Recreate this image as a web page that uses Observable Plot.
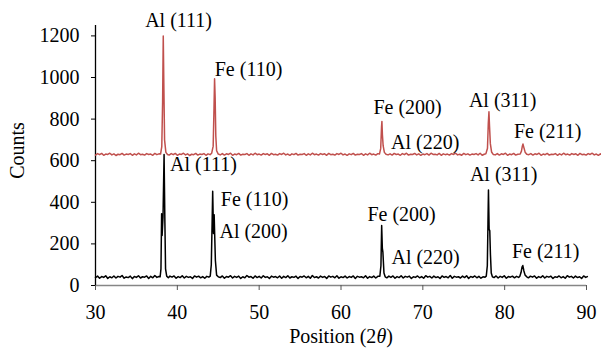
<!DOCTYPE html>
<html><head><meta charset="utf-8">
<script src="https://cdn.jsdelivr.net/npm/d3@7"></script>
<script src="https://cdn.jsdelivr.net/npm/@observablehq/plot@0.6"></script>
<style>
body{margin:0;background:#fff}
svg text, svg g[aria-label] { font-family: "Liberation Serif", "Times New Roman", serif !important; }
</style>
</head><body><div id="chart"></div>
<script>
// [2θ, counts]
const blackPattern = [
  [30,38],[30.25,45],[30.5,35],[30.75,43],[31,39],[31.25,47],[31.5,34],[31.75,42],[32,37],[32.25,46],[32.5,36],[32.75,44],[33,40],[33.25,48],[33.5,35],[33.75,41],
  [34,38],[34.25,45],[34.5,33],[34.75,43],[35,39],[35.25,47],[35.5,36],[35.75,42],[36,40],[36.25,46],[36.5,34],[36.75,44],[37,37],[37.25,48],[37.5,39],[37.75,43],
  [37.9,42],[38.0,80],[38.08,345],[38.14,240],[38.25,330],[38.38,630],[38.48,300],[38.56,80],[38.7,45],
  [38.9,37],[39.1,45],[39.35,40],[39.6,46],[39.85,35],[40.1,43],[40.35,38],[40.6,47],[40.85,36],[41.1,44],[41.35,39],[41.6,42],[41.85,34],[42.1,46],[42.35,40],[42.6,45],[42.85,37],[43.1,43],[43.35,35],[43.6,44],[43.85,40],
  [44.02,45],[44.15,100],[44.25,300],[44.32,453],[44.42,250],[44.5,340],[44.56,250],[44.65,120],[44.8,50],[45.0,42],
  [45.25,38],[45.5,46],[45.75,35],[46,43],[46.25,40],[46.5,47],[46.75,36],[47,44],[47.25,39],[47.5,45],[47.75,34],[48,42],[48.25,37],[48.5,48],[48.75,40],[49,43],
  [49.25,35],[49.5,46],[49.75,38],[50,44],[50.25,36],[50.5,47],[50.75,39],[51,42],[51.25,34],[51.5,45],[51.75,40],[52,43],[52.25,37],[52.5,46],[52.75,35],[53,44],
  [53.25,38],[53.5,47],[53.75,36],[54,42],[54.25,39],[54.5,45],[54.75,34],[55,43],[55.25,40],[55.5,46],[55.75,37],[56,44],[56.25,35],[56.5,48],[56.75,38],[57,42],
  [57.25,36],[57.5,45],[57.75,39],[58,43],[58.25,34],[58.5,46],[58.75,40],[59,44],[59.25,37],[59.5,47],[59.75,35],[60,42],[60.25,38],[60.5,45],[60.75,36],[61,43],
  [61.25,39],[61.5,46],[61.75,34],[62,44],[62.25,40],[62.5,42],[62.75,37],[63,47],[63.25,35],[63.5,43],[63.75,38],[64,45],[64.25,36],[64.5,44],
  [64.75,45],[64.88,95],[64.97,288],[65.05,180],[65.12,160],[65.25,60],[65.4,42],
  [65.6,37],[65.85,45],[66.1,39],[66.35,46],[66.6,35],[66.85,43],[67.1,38],[67.35,47],[67.6,36],[67.85,44],[68.1,40],[68.35,45],[68.6,34],[68.85,42],[69.1,39],[69.35,46],
  [69.6,37],[69.85,43],[70.1,35],[70.35,47],[70.6,40],[70.85,44],[71.1,36],[71.35,45],[71.6,38],[71.85,42],[72.1,34],[72.35,46],[72.6,39],[72.85,43],[73.1,37],[73.35,48],
  [73.6,35],[73.85,44],[74.1,40],[74.35,42],[74.6,36],[74.85,45],[75.1,38],[75.35,47],[75.6,34],[75.85,43],[76.1,39],[76.35,46],[76.6,37],[76.85,44],[77.1,35],[77.35,42],[77.6,40],
  [77.75,45],[77.88,95],[77.96,300],[78.02,459],[78.1,270],[78.18,264],[78.26,150],[78.36,60],[78.5,42],
  [78.7,38],[78.95,46],[79.2,36],[79.45,44],[79.7,39],[79.95,47],[80.2,35],[80.45,43],[80.7,40],[80.95,45],[81.2,37],[81.45,44],[81.7,39],
  [81.85,44],[82.0,62],[82.12,88],[82.22,96],[82.35,70],[82.5,50],[82.7,42],
  [82.9,37],[83.15,45],[83.4,40],[83.65,46],[83.9,35],[84.15,43],[84.4,38],[84.65,47],[84.9,36],[85.15,44],[85.4,40],[85.65,45],[85.9,34],[86.15,42],[86.4,39],[86.65,46],
  [86.9,37],[87.15,43],[87.4,35],[87.65,47],[87.9,40],[88.15,44],[88.4,36],[88.65,45],[88.9,38],[89.15,42],[89.4,34],[89.65,46],[89.9,39],[90.1,43]
];
const redPattern = [
  [30,627],[30.25,634],[30.5,629],[30.75,635],[31,626],[31.25,632],[31.5,630],[31.75,636],[32,628],[32.25,633],[32.5,625],[32.75,631],[33,629],[33.25,635],[33.5,627],[33.75,632],
  [34,630],[34.25,634],[34.5,626],[34.75,633],[35,628],[35.25,636],[35.5,629],[35.75,631],[36,627],[36.25,634],[36.5,630],[36.75,632],[37,626],[37.25,635],[37.5,629],[37.75,633],
  [37.95,632],[38.1,668],[38.2,880],[38.28,1200],[38.36,940],[38.44,700],[38.6,640],[38.8,630],
  [39,627],[39.25,634],[39.5,629],[39.75,635],[40,626],[40.25,632],[40.5,630],[40.75,636],[41,628],[41.25,633],[41.5,625],[41.75,631],[42,629],[42.25,635],[42.5,627],[42.75,632],
  [43,630],[43.25,634],[43.5,626],[43.75,633],[44.0,629],
  [44.2,636],[44.38,670],[44.48,850],[44.55,994],[44.62,905],[44.7,720],[44.8,648],[45.0,632],
  [45.25,628],[45.5,634],[45.75,627],[46,633],[46.25,630],[46.5,636],[46.75,626],[47,632],[47.25,629],[47.5,635],[47.75,627],[48,631],[48.25,630],[48.5,634],[48.75,626],[49,633],
  [49.25,628],[49.5,636],[49.75,629],[50,632],[50.25,627],[50.5,634],[50.75,630],[51,633],[51.25,626],[51.5,635],[51.75,629],[52,631],[52.25,627],[52.5,634],[52.75,630],[53,636],
  [53.25,628],[53.5,632],[53.75,626],[54,633],[54.25,629],[54.5,635],[54.75,627],[55,631],[55.25,630],[55.5,634],[55.75,626],[56,633],[56.25,628],[56.5,636],[56.75,629],[57,632],
  [57.25,627],[57.5,634],[57.75,630],[58,633],[58.25,626],[58.5,635],[58.75,629],[59,631],[59.25,627],[59.5,634],[59.75,630],[60,636],[60.25,628],[60.5,632],[60.75,626],[61,633],
  [61.25,629],[61.5,635],[61.75,627],[62,631],[62.25,630],[62.5,634],[62.75,626],[63,633],[63.25,628],[63.5,636],[63.75,629],[64,632],[64.25,627],[64.5,634],
  [64.7,632],[64.85,658],[64.95,760],[65.0,789],[65.06,725],[65.15,672],[65.3,640],[65.5,631],
  [65.75,628],[66,633],[66.25,627],[66.5,635],[66.75,630],[67,632],[67.25,626],[67.5,634],[67.75,629],[68,636],[68.25,627],[68.5,631],[68.75,630],[69,635],[69.25,628],[69.5,633],
  [69.75,626],[70,632],[70.25,629],[70.5,634],[70.75,627],[71,636],[71.25,630],[71.5,631],[71.75,628],[72,635],[72.25,626],[72.5,633],[72.75,629],[73,632],[73.25,627],[73.5,634],
  [73.75,630],[74,636],[74.25,628],[74.5,631],[74.75,626],[75,635],[75.25,629],[75.5,633],[75.75,627],[76,632],[76.25,630],[76.5,634],[76.75,628],[77,636],[77.25,626],[77.5,631],
  [77.7,633],[77.9,660],[78.0,780],[78.08,835],[78.15,765],[78.25,682],[78.4,642],[78.6,630],
  [78.85,628],[79.1,634],[79.35,627],[79.6,633],[79.85,630],[80.1,636],[80.35,626],[80.6,632],[80.85,629],[81.1,635],[81.35,627],[81.6,631],
  [81.9,632],[82.05,646],[82.15,668],[82.24,680],[82.35,663],[82.5,641],[82.7,631],
  [82.95,629],[83.2,634],[83.45,627],[83.7,633],[83.95,630],[84.2,636],[84.45,626],[84.7,632],[84.95,629],[85.2,635],[85.45,627],[85.7,631],[85.95,630],[86.2,634],[86.45,626],[86.7,633],
  [86.95,628],[87.2,636],[87.45,629],[87.7,632],[87.95,627],[88.2,634],[88.45,630],[88.7,633],[88.95,626],[89.2,635],[89.45,629],[89.7,631],[89.95,627],[90.2,634],[90.45,630],[90.7,636],
  [90.95,628],[91.2,632],[91.45,626],[91.7,633],[91.8,630]
];
const labelText   = ["Al (111)","Fe (110)","Fe (200)","Al (220)","Al (311)","Fe (211)",
                     "Al (111)","Fe (110)","Al (200)","Fe (200)","Al (220)","Al (311)","Fe (211)"];
const labelTheta  = [40.15,48.70,68.14,70.28,79.76,85.26,
                     43.20,49.44,49.32,67.40,70.34,79.88,85.01];
const labelCounts = [1243,1008,826,658,859,710,
                     552,384,230,312,101,501,134];
const xTicks = [30,40,50,60,70,80,90];
const yTicks = [0,200,400,600,800,1000,1200];

const toRows = pairs => pairs.map(([theta, counts]) => ({theta, counts}));
const labels = labelText.map((t, i) => ({text: t, theta: labelTheta[i], counts: labelCounts[i]}));

const font = '"Liberation Serif", "Times New Roman", serif';
const fs = 20;
const chart = Plot.plot({
  width: 601, height: 350,
  marginLeft: 95, marginRight: 15, marginTop: 25, marginBottom: 65,
  x: {domain: [30, 90]},
  y: {domain: [0, 1250]},
  style: {fontFamily: font, fontSize: fs + "px", color: "#000", background: "#fff", overflow: "visible"},
  marks: [
    Plot.ruleY([0], {x1: 30, x2: 90, stroke: "#868686", strokeWidth: 1.5}),
    Plot.axisX({ticks: xTicks, tickSize: 5, tickPadding: 14, label: null, fontSize: fs, fontFamily: font, stroke: "#555", tickFormat: d3.format("d")}),
    Plot.ruleX([30], {y1: 0, y2: 1250, stroke: "#000", strokeWidth: 1.3}),
    Plot.axisY({ticks: yTicks, tickSize: 4, tickPadding: 12, label: null, fontSize: fs, fontFamily: font, stroke: "#000", tickFormat: d3.format("d")}),
    Plot.line(toRows(redPattern), {x: "theta", y: "counts", stroke: "#c0504d", strokeWidth: 1.5, clip: false}),
    Plot.line(toRows(blackPattern), {x: "theta", y: "counts", stroke: "#000", strokeWidth: 1.5, clip: false}),
    Plot.text(labels, {x: "theta", y: "counts", text: "text", textAnchor: "middle", lineAnchor: "bottom", fontSize: fs, fontFamily: font, fill: "#000"}),
    Plot.text(["Counts"], {frameAnchor: "left", text: d => d, rotate: -90, textAnchor: "middle", lineAnchor: "middle", dx: -78, dy: -5, fontSize: fs, fontFamily: font, fill: "#000"}),
    Plot.text(["Position (2θ)"], {frameAnchor: "bottom", text: d => d, textAnchor: "middle", lineAnchor: "bottom", dy: 57, fontSize: fs, fontFamily: font, fill: "#000"})
  ]
});
// italic theta in the x-axis title
d3.select(chart).selectAll("text").filter(function () { return this.textContent === "Position (2θ)"; })
  .each(function () {
    const t = d3.select(this);
    t.text(null);
    t.append("tspan").text("Position (2");
    t.append("tspan").attr("font-style", "italic").text("θ");
    t.append("tspan").text(")");
  });
document.getElementById("chart").appendChild(chart);
</script>
</body></html>
